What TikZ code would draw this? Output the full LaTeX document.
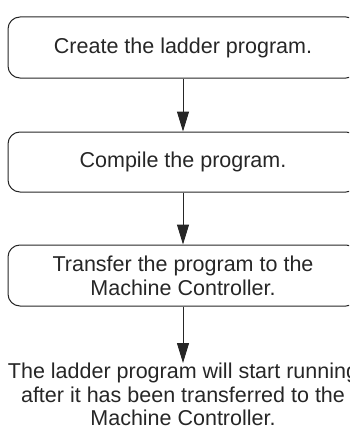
\documentclass[tikz,border=0pt]{standalone}
\usepackage{fontspec}
\setmainfont{Liberation Sans}
\usetikzlibrary{arrows.meta}
\begin{document}
\begin{tikzpicture}[x=1pt,y=-1pt,
  stepbox/.style={draw=black!85, line width=1pt, rounded corners=12pt, minimum width=350pt, align=center,
    inner sep=0pt, font=\fontsize{21.5}{24}\selectfont, text=black!85},
  flow/.style={draw=black!85, line width=1pt, -{Triangle[length=20pt,width=12pt]}}]
\clip (0,0) rectangle (349,428);
\node[stepbox, minimum height=61pt] (a) at (183,47.5) {Create the ladder program.};
\node[stepbox, minimum height=60pt] (b) at (183,162) {Compile the program.};
\node[stepbox, minimum height=61pt] (c) at (183,275.5) {Transfer the program to the\\Machine Controller.};
\node[align=center, inner sep=0pt, font=\fontsize{21.5}{23.5}\selectfont, text=black!85, anchor=north] (d) at (183,363)
  {The ladder program will start running\\after it has been transferred to the\\Machine Controller.};
\draw[flow] (a) -- (b);
\draw[flow] (b) -- (c);
\draw[flow] (c.south) -- (d.north);
\end{tikzpicture}
\end{document}
